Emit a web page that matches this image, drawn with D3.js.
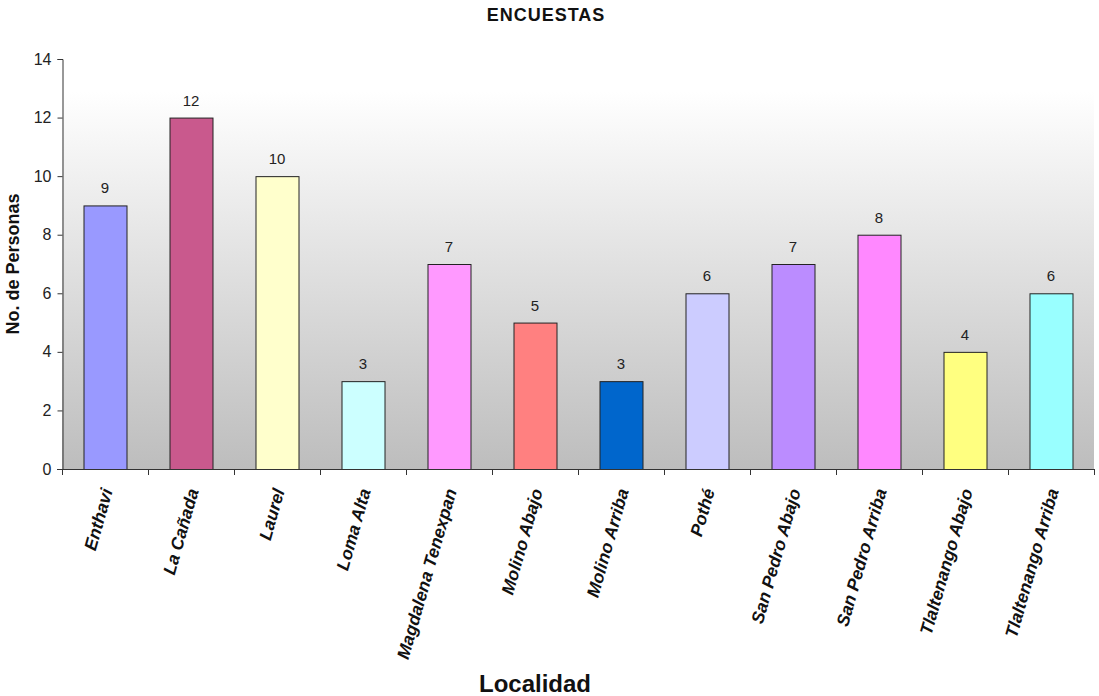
<!DOCTYPE html>
<html>
<head>
<meta charset="utf-8">
<script src="https://cdn.jsdelivr.net/npm/d3@7"></script>
<style>
  body { margin: 0; background: #fff; }
  svg { display: block; font-family: "Liberation Sans", Arial, sans-serif; }
</style>
</head>
<body>
<svg id="chart" width="1099" height="696"></svg>
<script>
var localidades = ["Enthavi", "La Cañada", "Laurel", "Loma Alta", "Magdalena Tenexpan",
  "Molino Abajo", "Molino Arriba", "Pothé", "San Pedro Abajo", "San Pedro Arriba",
  "Tlaltenango Abajo", "Tlaltenango Arriba"];
var personas = [9, 12, 10, 3, 7, 5, 3, 6, 7, 8, 4, 6];
var colores = ["#9999ff", "#c9598d", "#ffffcc", "#ccffff", "#ff99ff", "#ff8080",
  "#0066cc", "#ccccff", "#bb8cff", "#ff88ff", "#ffff80", "#99ffff"];
var yTicks = [0, 2, 4, 6, 8, 10, 12, 14];

var svg = d3.select("#chart");
var plotLeft = 62, plotRight = 1094, plotTop = 59, plotBottom = 469;

var x = d3.scaleBand().domain(localidades).range([plotLeft, plotRight]).paddingInner(0.5).paddingOuter(0.25);
var y = d3.scaleLinear().domain([0, 14]).range([plotBottom, plotTop]);

// plot background gradient
var grad = svg.append("defs").append("linearGradient")
  .attr("id", "bg").attr("x1", 0).attr("y1", 0).attr("x2", 0).attr("y2", 1);
grad.append("stop").attr("offset", "0%").attr("stop-color", "#ffffff");
grad.append("stop").attr("offset", "8%").attr("stop-color", "#ffffff");
grad.append("stop").attr("offset", "100%").attr("stop-color", "#bdbdbd");

svg.append("rect")
  .attr("x", plotLeft).attr("y", plotTop)
  .attr("width", plotRight - plotLeft).attr("height", plotBottom - plotTop)
  .attr("fill", "url(#bg)");

// bars
svg.selectAll(".bar").data(personas).enter().append("rect")
  .attr("class", "bar")
  .attr("x", function (d, i) { return x(localidades[i]) + 0.5; })
  .attr("y", function (d) { return y(d) + 0.5; })
  .attr("width", x.bandwidth())
  .attr("height", function (d) { return y(0) - y(d); })
  .attr("fill", function (d, i) { return colores[i]; })
  .attr("stroke", "#222")
  .attr("stroke-width", 1);

// value labels
svg.selectAll(".val").data(personas).enter().append("text")
  .attr("class", "val")
  .attr("x", function (d, i) { return x(localidades[i]) + x.bandwidth() / 2; })
  .attr("y", function (d) { return y(d) - 12; })
  .attr("text-anchor", "middle")
  .attr("font-size", 15)
  .attr("fill", "#222")
  .text(function (d) { return d; });

// y axis
var yAxis = svg.append("g")
  .attr("transform", "translate(" + (plotLeft + 0.5) + ",0)")
  .call(d3.axisLeft(y).tickValues(yTicks).tickSize(5).tickPadding(6));
yAxis.select(".domain").attr("stroke", "#333");
yAxis.selectAll(".tick line").attr("stroke", "#333");
yAxis.selectAll("text").attr("font-size", 16).attr("fill", "#222")
  .style("font-family", "Liberation Sans, Arial, sans-serif");

// x axis: ticks at category boundaries
var step = x.step();
var bounds = d3.range(localidades.length + 1).map(function (i) { return plotLeft + i * step; });
svg.append("line")
  .attr("x1", plotLeft - 5).attr("x2", plotRight)
  .attr("y1", plotBottom + 0.5).attr("y2", plotBottom + 0.5)
  .attr("stroke", "#333");
svg.selectAll(".xtick").data(bounds).enter().append("line")
  .attr("x1", function (d) { return d + 0.5; }).attr("x2", function (d) { return d + 0.5; })
  .attr("y1", plotBottom).attr("y2", plotBottom + 6)
  .attr("stroke", "#333");

// category labels
svg.selectAll(".xlab").data(localidades).enter().append("text")
  .attr("class", "xlab")
  .attr("transform", function (d) {
    return "translate(" + (x(d) + x.bandwidth() / 2 + 2) + "," + (plotBottom + 20) + ") rotate(-74)";
  })
  .attr("text-anchor", "end")
  .attr("dy", "0.35em")
  .attr("font-size", 17.5)
  .attr("font-weight", "bold")
  .attr("font-style", "italic")
  .attr("fill", "#111")
  .text(function (d) { return d; });

// titles
svg.append("text")
  .attr("x", 546).attr("y", 21)
  .attr("text-anchor", "middle")
  .attr("font-size", 18).attr("font-weight", "bold").attr("fill", "#111")
  .attr("letter-spacing", 1)
  .text("ENCUESTAS");

svg.append("text")
  .attr("transform", "translate(19,264) rotate(-90)")
  .attr("text-anchor", "middle")
  .attr("font-size", 18).attr("font-weight", "bold").attr("fill", "#111")
  .text("No. de Personas");

svg.append("text")
  .attr("x", 535).attr("y", 692)
  .attr("text-anchor", "middle")
  .attr("font-size", 24).attr("font-weight", "bold").attr("fill", "#111")
  .text("Localidad");
</script>
</body>
</html>
